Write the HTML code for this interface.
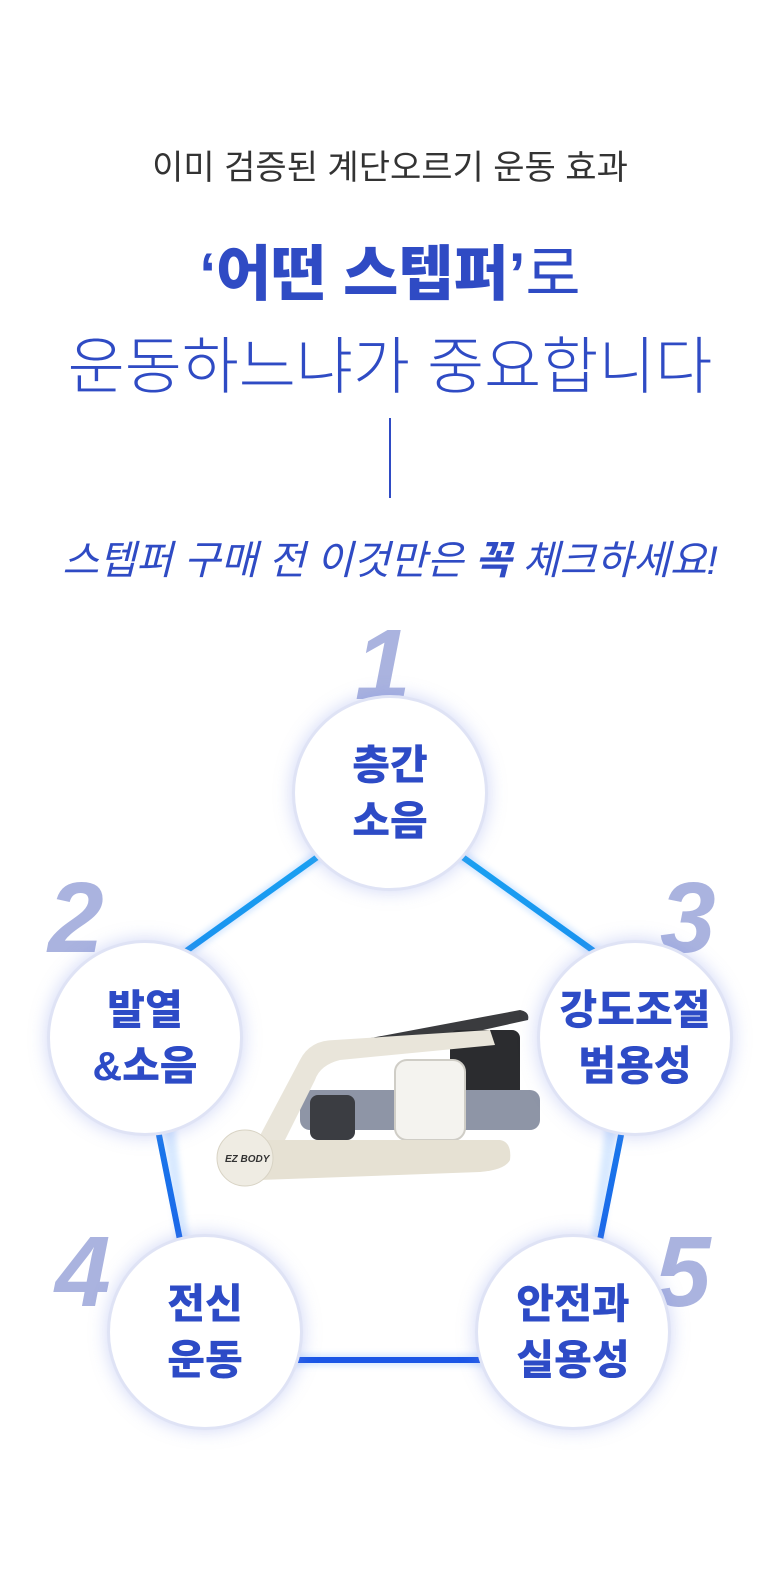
<!DOCTYPE html>
<html><head><meta charset="utf-8"><style>
html,body{margin:0;padding:0;background:#fff;}
body{width:780px;height:1569px;position:relative;overflow:hidden;font-family:"Liberation Sans","Noto Sans CJK KR",sans-serif;}
.t{position:absolute;left:0;width:780px;text-align:center;white-space:nowrap;}
.c{position:absolute;width:196px;height:196px;border-radius:50%;background:#fff;border:3px solid #dfe3f5;box-shadow:0 0 18px rgba(120,140,230,0.35);display:flex;align-items:center;justify-content:center;text-align:center;color:#2d4bc6;font-weight:900;font-size:41px;line-height:56px;box-sizing:border-box;}
.n{position:absolute;font-family:"Liberation Sans",sans-serif;font-style:italic;font-weight:900;font-size:100px;color:#aab3df;line-height:1;}
</style></head><body>
<div class="t" style="top:140px;font-size:34px;color:#333;">이미 검증된 계단오르기 운동 효과</div>
<div class="t" style="top:226px;font-size:60px;color:#2f4bc4;"><b style="font-weight:900">‘어떤 스텝퍼’</b>로</div>
<div class="t" style="top:316px;font-size:62px;color:#2f4bc4;font-weight:300;">운동하느냐가 중요합니다</div>
<div style="position:absolute;left:389px;top:418px;width:2px;height:80px;background:#2f4bc4;"></div>
<div class="t" style="top:528px;font-size:40px;color:#2f4bc4;font-style:italic;">스텝퍼 구매 전 이것만은 <b>꼭</b> 체크하세요!</div>
<svg style="position:absolute;left:0;top:0" width="780" height="1569">
<defs><linearGradient id="g" gradientUnits="userSpaceOnUse" x1="0" y1="840" x2="0" y2="1360"><stop offset="0" stop-color="#19a3f2"/><stop offset="1" stop-color="#1a56e6"/></linearGradient>
<filter id="b"><feGaussianBlur stdDeviation="3"/></filter></defs>
<g stroke="#7fb8ff" stroke-width="12" opacity="0.3" filter="url(#b)" fill="none">
<polyline points="150,977 390,805 630,977 590,1300 573,1360 205,1360 190,1300 150,977" />
</g>
<g stroke="url(#g)" stroke-width="6" fill="none">
<line x1="150" y1="977" x2="390" y2="805"/><line x1="390" y1="805" x2="630" y2="977"/>
<line x1="140" y1="1040" x2="192" y2="1300"/><line x1="640" y1="1040" x2="588" y2="1300"/>
<line x1="205" y1="1360" x2="573" y2="1360"/>
</g>
<g>
<path d="M360 1040 L520 1010 Q530 1012 528 1020 L370 1055 Z" fill="#3a3b3e"/>
<rect x="450" y="1030" width="70" height="75" rx="8" fill="#2b2c2f"/>
<rect x="300" y="1090" width="240" height="40" rx="10" fill="#8e95a6"/>
<rect x="310" y="1095" width="45" height="45" rx="8" fill="#3b3d42"/>
<path d="M255 1145 L300 1060 Q310 1040 335 1040 L490 1030 L495 1045 L340 1060 Q320 1065 315 1080 L285 1140 Z" fill="#e9e5da"/>
<rect x="395" y="1060" width="70" height="80" rx="12" fill="#f4f3ef" stroke="#cfcdc6" stroke-width="2"/>
<path d="M240 1140 L500 1140 Q512 1142 510 1160 Q505 1170 480 1172 L260 1180 Q235 1180 235 1160 Z" fill="#e6e1d3"/>
<circle cx="245" cy="1158" r="28" fill="#efece3" stroke="#d8d3c4"/>
<text x="225" y="1162" font-size="10" font-style="italic" font-weight="bold" fill="#333">EZ BODY</text>
</g>
</svg>
<div class="n" style="left:355px;top:615px;">1</div>
<div class="n" style="left:48px;top:868px;">2</div>
<div class="n" style="left:660px;top:868px;">3</div>
<div class="n" style="left:55px;top:1222px;">4</div>
<div class="n" style="left:655px;top:1222px;">5</div>
<div class="c" style="left:292px;top:695px;">층간<br>소음</div>
<div class="c" style="left:47px;top:940px;">발열<br>&amp;소음</div>
<div class="c" style="left:537px;top:940px;">강도조절<br>범용성</div>
<div class="c" style="left:107px;top:1234px;">전신<br>운동</div>
<div class="c" style="left:475px;top:1234px;">안전과<br>실용성</div>
</body></html>
